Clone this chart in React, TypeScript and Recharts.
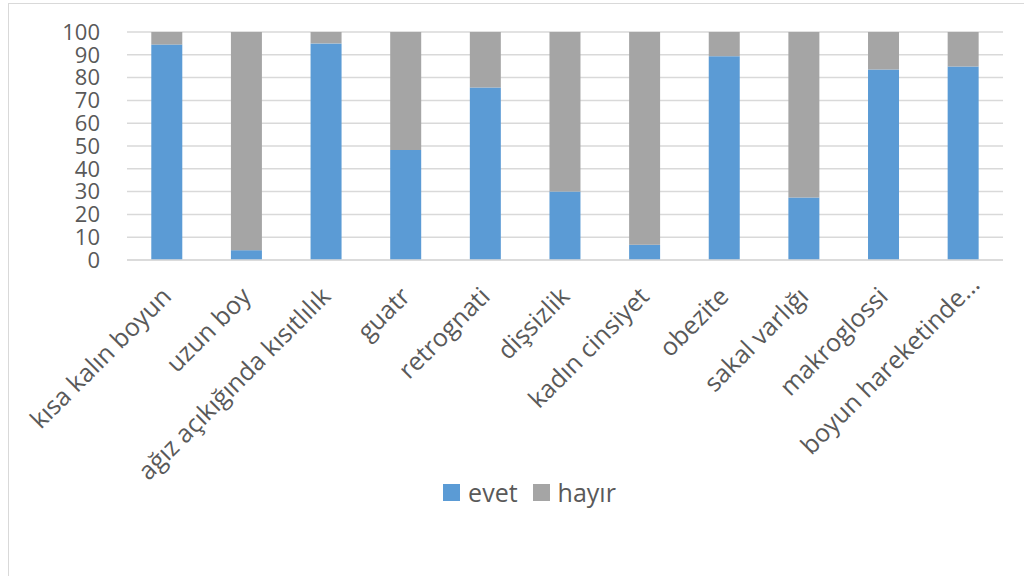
import React from 'react';
import { BarChart, Bar, XAxis, YAxis, CartesianGrid, Legend } from 'recharts';

const categories = [
  'kısa kalın boyun',
  'uzun boy',
  'ağız açıkığında kısıtlılık',
  'guatr',
  'retrognati',
  'dişsizlik',
  'kadın cinsiyet',
  'obezite',
  'sakal varlığı',
  'makroglossi',
  'boyun hareketinde...',
];

const evet = [94.5, 4.3, 95, 48.3, 75.7, 30, 6.7, 89.4, 27.4, 83.6, 84.9];
const hayir = evet.map(v => 100 - v);

const yTicks = [0, 10, 20, 30, 40, 50, 60, 70, 80, 90, 100];

const data = categories.map((name, i) => ({ name, evet: evet[i], hayir: hayir[i] }));

const FONT = "'Open Sans', Lato, sans-serif";
const TEXT = '#595959';
const BLUE = '#5b9bd5';
const GRAY = '#a5a5a5';

// last label is truncated in the original and sits a bit further up the diagonal
const XTick = ({ x, y, payload, index }: any) => {
  const shift = index === categories.length - 1 ? 12 : 0;
  return (
    <g transform={`translate(${x + 6 + shift},${y + 30 - shift})`}>
      <text
        transform="rotate(-45)"
        textAnchor="end"
        fill={TEXT}
        fontSize={25}
        fontFamily={FONT}
      >
        {payload.value}
      </text>
    </g>
  );
};

const CustomLegend = () => (
  <div
    style={{
      display: 'flex',
      justifyContent: 'center',
      alignItems: 'center',
      height: 24,
      paddingLeft: 26,
      fontFamily: FONT,
      fontSize: 25,
      color: TEXT,
    }}
  >
    <span style={{ width: 17, height: 17, background: BLUE, marginRight: 8 }} />
    <span style={{ marginRight: 15 }}>evet</span>
    <span style={{ width: 17, height: 17, background: GRAY, marginRight: 8 }} />
    <span>hayır</span>
  </div>
);

export default function App() {
  return (
    <div
      style={{
        position: 'absolute',
        left: 8,
        top: 3,
        width: 1016,
        height: 573,
        boxSizing: 'border-box',
        borderTop: '1px solid #d9d9d9',
        borderLeft: '1px solid #d9d9d9',
        background: '#fff',
      }}
    >
      <BarChart
        width={1015}
        height={572}
        data={data}
        margin={{ top: 28, right: 21, left: 0, bottom: 92 }}
        barCategoryGap="30.5%"
      >
        <CartesianGrid vertical={false} stroke="#d9d9d9" strokeWidth={1.5} />
        <XAxis
          dataKey="name"
          interval={0}
          height={200}
          tickLine={false}
          axisLine={{ stroke: '#d9d9d9', strokeWidth: 1.5 }}
          tick={<XTick />}
        />
        <YAxis
          width={118}
          domain={[0, 100]}
          ticks={yTicks}
          interval={0}
          axisLine={false}
          tickLine={false}
          tickSize={20}
          tickMargin={7}
          tick={{ fill: TEXT, fontSize: 22, fontFamily: FONT }}
        />
        <Legend
          content={<CustomLegend />}
          wrapperStyle={{ position: 'absolute', top: 476, left: 0, width: 1015 }}
        />
        <Bar dataKey="evet" stackId="a" fill={BLUE} isAnimationActive={false} />
        <Bar dataKey="hayir" name="hayır" stackId="a" fill={GRAY} isAnimationActive={false} />
      </BarChart>
    </div>
  );
}
